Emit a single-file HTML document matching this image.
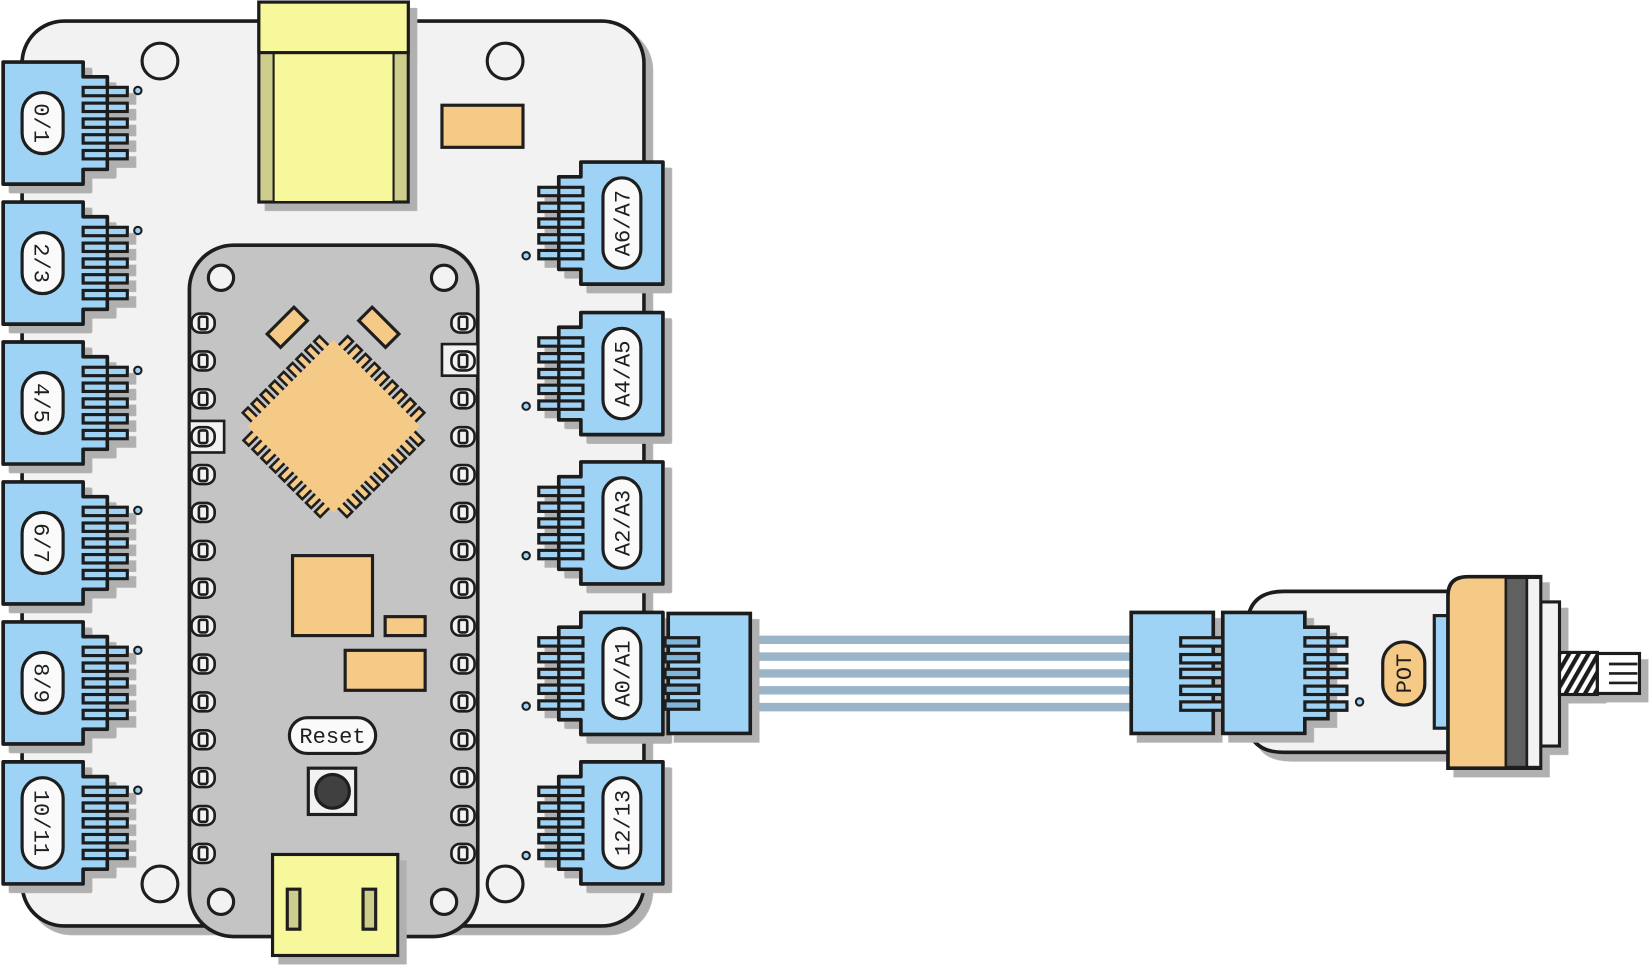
<!DOCTYPE html>
<html><head><meta charset="utf-8"><style>
html,body{margin:0;padding:0;background:#fff;width:1650px;height:966px;overflow:hidden}
svg{display:block}
text{font-family:"Liberation Mono","DejaVu Sans Mono",monospace;fill:#1e1e1e}
</style></head><body>
<svg width="1650" height="966" viewBox="0 0 1650 966" xmlns="http://www.w3.org/2000/svg">
<defs>
<filter id="sh" x="-10%" y="-10%" width="130%" height="130%"><feDropShadow dx="7" dy="7" stdDeviation="0" flood-color="#b0b0b0" flood-opacity="1"/></filter>
<g id="lc">
  <path d="M3,-58 H79 V-44 H102 V44 H79 V58 H3 Z" fill="#9fd3f5" stroke="#1e1e1e" stroke-width="3.5" stroke-linejoin="round"/>
  <g fill="#9fd3f5" stroke="#1e1e1e" stroke-width="3">
    <rect x="79" y="-34" width="42" height="8"/><rect x="79" y="-19" width="42" height="8"/><rect x="79" y="-4" width="42" height="8"/><rect x="79" y="11" width="42" height="8"/><rect x="79" y="26" width="42" height="8"/>
  </g>
  <line x1="102" y1="-44" x2="102" y2="44" stroke="#1e1e1e" stroke-width="3"/>
</g>
<g id="rc">
  <path d="M630,-58 H552 V-44 H531 V44 H552 V58 H630 Z" fill="#9fd3f5" stroke="#1e1e1e" stroke-width="3.5" stroke-linejoin="round"/>
  <g fill="#9fd3f5" stroke="#1e1e1e" stroke-width="3">
    <rect x="512" y="-34" width="42" height="8"/><rect x="512" y="-19" width="42" height="8"/><rect x="512" y="-4" width="42" height="8"/><rect x="512" y="11" width="42" height="8"/><rect x="512" y="26" width="42" height="8"/>
  </g>
  <line x1="531" y1="-44" x2="531" y2="44" stroke="#1e1e1e" stroke-width="3"/>
</g>
<g id="ld"><circle cx="131" cy="-31" r="3.5" fill="#9fd3f5" stroke="#1e1e1e" stroke-width="2"/></g>
<g id="rd"><circle cx="500" cy="31" r="3.5" fill="#9fd3f5" stroke="#1e1e1e" stroke-width="2"/></g>
<g id="lp3"><rect x="21" y="-29" width="39" height="58" rx="19.5" fill="#fafafa" stroke="#1e1e1e" stroke-width="3"/></g>
<g id="lp5"><rect x="21" y="-43" width="39" height="86" rx="19.5" fill="#fafafa" stroke="#1e1e1e" stroke-width="3"/></g>
<g id="rp5"><rect x="573" y="-43" width="36" height="86" rx="18" fill="#fafafa" stroke="#1e1e1e" stroke-width="3"/></g>
<g id="pin"><rect x="-11" y="-9" width="22" height="18" rx="8" fill="#f2f2f2" stroke="#1e1e1e" stroke-width="2.5"/><rect x="-4" y="-6" width="8" height="12" rx="2" fill="#f2f2f2" stroke="#1e1e1e" stroke-width="2.5"/></g>
<pattern id="hatch" width="8" height="8" patternUnits="userSpaceOnUse" patternTransform="rotate(30)"><rect width="8" height="8" fill="#fff"/><rect width="4" height="8" fill="#1e1e1e"/></pattern>
</defs>
<g transform="scale(1.0523)">
<!-- main board -->
<rect x="21" y="20" width="591" height="860" rx="40" fill="#f2f2f2" stroke="#1e1e1e" stroke-width="3.5" filter="url(#sh)"/>
<g fill="none" stroke="#1e1e1e" stroke-width="3">
<circle cx="152" cy="58" r="17"/><circle cx="480" cy="58" r="17"/><circle cx="152" cy="840" r="17"/><circle cx="480" cy="840" r="17"/>
</g>
<!-- top usb -->
<g filter="url(#sh)">
<rect x="246" y="2" width="142" height="190" fill="#cdcd8c" stroke="#1e1e1e" stroke-width="3"/>
<rect x="260" y="50" width="114" height="142" fill="#f7f79c" stroke="#1e1e1e" stroke-width="2"/>
<rect x="246" y="2" width="142" height="48" fill="#f7f79c" stroke="#1e1e1e" stroke-width="3"/>
</g>
<rect x="420" y="100" width="77" height="40" fill="#f5c986" stroke="#1e1e1e" stroke-width="3"/>
<!-- left connectors -->
<g filter="url(#sh)">
<use href="#lc" y="117"/><use href="#lc" y="250"/><use href="#lc" y="383"/><use href="#lc" y="516"/><use href="#lc" y="649"/><use href="#lc" y="782"/>
</g>
<use href="#ld" y="117"/><use href="#ld" y="250"/><use href="#ld" y="383"/><use href="#ld" y="516"/><use href="#ld" y="649"/><use href="#ld" y="782"/>
<use href="#lp3" y="117"/><use href="#lp3" y="250"/><use href="#lp3" y="383"/><use href="#lp3" y="516"/><use href="#lp3" y="649"/><use href="#lp5" y="782"/>
<g font-size="21">
<text transform="translate(33,117) rotate(90)" text-anchor="middle">0/1</text>
<text transform="translate(33,250) rotate(90)" text-anchor="middle">2/3</text>
<text transform="translate(33,383) rotate(90)" text-anchor="middle">4/5</text>
<text transform="translate(33,516) rotate(90)" text-anchor="middle">6/7</text>
<text transform="translate(33,649) rotate(90)" text-anchor="middle">8/9</text>
<text transform="translate(33,782) rotate(90)" text-anchor="middle">10/11</text>
</g>
<!-- right connectors -->
<g filter="url(#sh)">
<use href="#rc" y="212"/><use href="#rc" y="355"/><use href="#rc" y="497"/><use href="#rc" y="640"/><use href="#rc" y="782"/>
</g>
<use href="#rd" y="212"/><use href="#rd" y="355"/><use href="#rd" y="497"/><use href="#rd" y="640"/><use href="#rd" y="782"/>
<use href="#rp5" y="212"/><use href="#rp5" y="355"/><use href="#rp5" y="497"/><use href="#rp5" y="640"/><use href="#rp5" y="782"/>
<g font-size="21">
<text transform="translate(598,212) rotate(-90)" text-anchor="middle">A6/A7</text>
<text transform="translate(598,355) rotate(-90)" text-anchor="middle">A4/A5</text>
<text transform="translate(598,497) rotate(-90)" text-anchor="middle">A2/A3</text>
<text transform="translate(598,640) rotate(-90)" text-anchor="middle">A0/A1</text>
<text transform="translate(598,782) rotate(-90)" text-anchor="middle">12/13</text>
</g>
<!-- nano -->
<rect x="180" y="233" width="274" height="657" rx="42" fill="#c4c4c4" stroke="#1e1e1e" stroke-width="3.5"/>
<g fill="#f2f2f2" stroke="#1e1e1e" stroke-width="3">
<circle cx="210" cy="264" r="12"/><circle cx="422" cy="264" r="12"/><circle cx="210" cy="857" r="12"/><circle cx="422" cy="857" r="12"/>
</g>
<rect x="180" y="400" width="33" height="30" fill="#f2f2f2" stroke="#1e1e1e" stroke-width="2.5"/>
<rect x="420" y="327" width="34" height="30" fill="#f2f2f2" stroke="#1e1e1e" stroke-width="2.5"/>
<g>
<use href="#pin" x="193" y="307"/><use href="#pin" x="193" y="343"/><use href="#pin" x="193" y="379"/><use href="#pin" x="193" y="415"/><use href="#pin" x="193" y="451"/><use href="#pin" x="193" y="487"/><use href="#pin" x="193" y="523"/><use href="#pin" x="193" y="559"/><use href="#pin" x="193" y="595"/><use href="#pin" x="193" y="631"/><use href="#pin" x="193" y="667"/><use href="#pin" x="193" y="703"/><use href="#pin" x="193" y="739"/><use href="#pin" x="193" y="775"/><use href="#pin" x="193" y="811"/>
<use href="#pin" x="440" y="307"/><use href="#pin" x="440" y="343"/><use href="#pin" x="440" y="379"/><use href="#pin" x="440" y="415"/><use href="#pin" x="440" y="451"/><use href="#pin" x="440" y="487"/><use href="#pin" x="440" y="523"/><use href="#pin" x="440" y="559"/><use href="#pin" x="440" y="595"/><use href="#pin" x="440" y="631"/><use href="#pin" x="440" y="667"/><use href="#pin" x="440" y="703"/><use href="#pin" x="440" y="739"/><use href="#pin" x="440" y="775"/><use href="#pin" x="440" y="811"/>
</g>
<!-- chip -->
<g transform="translate(317,405) rotate(45)">
<g fill="#f5c986" stroke="#1e1e1e" stroke-width="2.5">
<rect x="-51" y="-70" width="7" height="14"/><rect x="-39" y="-70" width="7" height="14"/><rect x="-27" y="-70" width="7" height="14"/><rect x="-15" y="-70" width="7" height="14"/><rect x="-3" y="-70" width="7" height="14"/><rect x="9" y="-70" width="7" height="14"/><rect x="21" y="-70" width="7" height="14"/><rect x="33" y="-70" width="7" height="14"/><rect x="45" y="-70" width="7" height="14"/>
<rect x="-51" y="56" width="7" height="14"/><rect x="-39" y="56" width="7" height="14"/><rect x="-27" y="56" width="7" height="14"/><rect x="-15" y="56" width="7" height="14"/><rect x="-3" y="56" width="7" height="14"/><rect x="9" y="56" width="7" height="14"/><rect x="21" y="56" width="7" height="14"/><rect x="33" y="56" width="7" height="14"/><rect x="45" y="56" width="7" height="14"/>
<rect y="-51" x="-70" height="7" width="14"/><rect y="-39" x="-70" height="7" width="14"/><rect y="-27" x="-70" height="7" width="14"/><rect y="-15" x="-70" height="7" width="14"/><rect y="-3" x="-70" height="7" width="14"/><rect y="9" x="-70" height="7" width="14"/><rect y="21" x="-70" height="7" width="14"/><rect y="33" x="-70" height="7" width="14"/><rect y="45" x="-70" height="7" width="14"/>
<rect y="-51" x="56" height="7" width="14"/><rect y="-39" x="56" height="7" width="14"/><rect y="-27" x="56" height="7" width="14"/><rect y="-15" x="56" height="7" width="14"/><rect y="-3" x="56" height="7" width="14"/><rect y="9" x="56" height="7" width="14"/><rect y="21" x="56" height="7" width="14"/><rect y="33" x="56" height="7" width="14"/><rect y="45" x="56" height="7" width="14"/>
</g>
<rect x="-58" y="-58" width="116" height="116" fill="#f5c986"/>
</g>
<g fill="#f5c986" stroke="#1e1e1e" stroke-width="3">
<rect x="-9" y="-18" width="18" height="36" transform="translate(273,311) rotate(45)"/>
<rect x="-9" y="-18" width="18" height="36" transform="translate(360,311) rotate(-45)"/>
<rect x="278" y="528" width="76" height="76"/>
<rect x="366" y="586" width="38" height="18"/>
<rect x="328" y="618" width="76" height="38"/>
</g>
<rect x="275" y="682" width="82" height="34" rx="17" fill="#fafafa" stroke="#1e1e1e" stroke-width="3"/>
<text x="316" y="706" font-size="21" text-anchor="middle">Reset</text>
<rect x="293" y="730" width="45" height="44" fill="#f2f2f2" stroke="#1e1e1e" stroke-width="3"/>
<circle cx="316" cy="752" r="16" fill="#404040" stroke="#1e1e1e" stroke-width="3"/>
<!-- bottom usb -->
<g filter="url(#sh)"><rect x="259" y="812" width="119" height="96" fill="#f7f79c" stroke="#1e1e1e" stroke-width="3"/></g>
<rect x="273" y="845" width="12" height="38" fill="#cdcd8c" stroke="#1e1e1e" stroke-width="3"/>
<rect x="345" y="845" width="12" height="38" fill="#cdcd8c" stroke="#1e1e1e" stroke-width="3"/>
<!-- cable -->
<g stroke="#9ab5c8" stroke-width="8">
<line x1="712" y1="608" x2="1076" y2="608"/><line x1="712" y1="624" x2="1076" y2="624"/><line x1="712" y1="640" x2="1076" y2="640"/><line x1="712" y1="656" x2="1076" y2="656"/><line x1="712" y1="672" x2="1076" y2="672"/>
</g>
<!-- plug on board -->
<g filter="url(#sh)">
<rect x="635" y="583" width="78" height="114" fill="#9fd3f5" stroke="#1e1e1e" stroke-width="3.5"/>
</g>
<g fill="#7fb6d9" stroke="#1e1e1e" stroke-width="3">
<rect x="632" y="606" width="32" height="8"/><rect x="632" y="621" width="32" height="8"/><rect x="632" y="636" width="32" height="8"/><rect x="632" y="651" width="32" height="8"/><rect x="632" y="666" width="32" height="8"/>
</g>
<!-- pot module -->
<g filter="url(#sh)">
<path d="M1220,562 H1380 V715 H1220 Q1185,715 1185,680 V597 Q1185,562 1220,562 Z" fill="#f2f2f2" stroke="#1e1e1e" stroke-width="3.5"/>
</g>
<g filter="url(#sh)">
<rect x="1075" y="582" width="78" height="115" fill="#9fd3f5" stroke="#1e1e1e" stroke-width="3.5"/>
<path d="M1240,582 H1162 V697 H1240 V683 H1262 V596 H1240 Z" fill="#9fd3f5" stroke="#1e1e1e" stroke-width="3.5"/>
</g>
<g fill="#9fd3f5" stroke="#1e1e1e" stroke-width="3">
<rect x="1122" y="636" width="40" height="8"/><rect x="1122" y="622" width="40" height="8"/><rect x="1122" y="606" width="40" height="8"/><rect x="1122" y="652" width="40" height="8"/><rect x="1122" y="667" width="40" height="8"/>
<rect x="1240" y="606" width="40" height="8"/><rect x="1240" y="622" width="40" height="8"/><rect x="1240" y="636" width="40" height="8"/><rect x="1240" y="652" width="40" height="8"/><rect x="1240" y="667" width="40" height="8"/>
</g>
<line x1="1262" y1="596" x2="1262" y2="683" stroke="#1e1e1e" stroke-width="3"/>
<circle cx="1292" cy="667" r="3.5" fill="#9fd3f5" stroke="#1e1e1e" stroke-width="2"/>
<rect x="1314" y="610" width="40" height="60" rx="20" fill="#f5c986" stroke="#1e1e1e" stroke-width="3"/>
<text transform="translate(1341,640) rotate(-90)" font-size="21" text-anchor="middle">POT</text>
<rect x="1363" y="585" width="13" height="107" fill="#9fd3f5" stroke="#1e1e1e" stroke-width="3"/>
<g filter="url(#sh)">
<rect x="1464" y="572" width="18" height="137" fill="#f2f2f2" stroke="#1e1e1e" stroke-width="3"/>
<rect x="1482" y="620" width="36" height="40" fill="url(#hatch)" stroke="#1e1e1e" stroke-width="3"/>
<rect x="1518" y="621" width="40" height="38" fill="#fff" stroke="#1e1e1e" stroke-width="3"/>
<path d="M1395,548 H1464 V730 H1376 V566 Q1376,548 1395,548 Z" fill="#f5c986" stroke="#1e1e1e" stroke-width="3.5"/>
</g>
<line x1="1529" y1="631" x2="1556" y2="631" stroke="#1e1e1e" stroke-width="2.5"/>
<line x1="1529" y1="640" x2="1556" y2="640" stroke="#1e1e1e" stroke-width="2.5"/>
<line x1="1529" y1="649" x2="1556" y2="649" stroke="#1e1e1e" stroke-width="2.5"/>
<rect x="1431" y="549" width="20" height="180" fill="#606060" stroke="#1e1e1e" stroke-width="2.5"/>
<rect x="1451" y="549" width="13" height="180" fill="#f2f2f2" stroke="#1e1e1e" stroke-width="2.5"/>
</g>
</svg>
</body></html>
